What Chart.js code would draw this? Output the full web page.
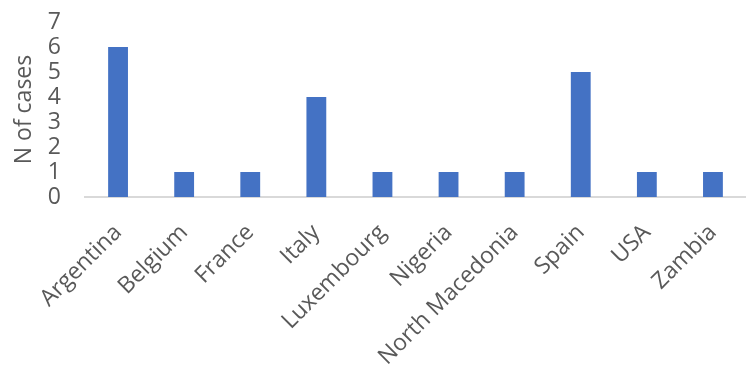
<!DOCTYPE html>
<html>
<head>
<meta charset="utf-8">
<script src="https://cdn.jsdelivr.net/npm/chart.js@4.4.1/dist/chart.umd.min.js"></script>
<style>
    html, body { margin: 0; padding: 0; background: #ffffff; }
    #wrap { width: 746px; height: 368px; position: relative; }
</style>
</head>
<body>
<div id="wrap"><canvas id="casesChart"></canvas></div>
<script>
// Chart data
const countries = ['Argentina', 'Belgium', 'France', 'Italy', 'Luxembourg', 'Nigeria', 'North Macedonia', 'Spain', 'USA', 'Zambia'];
const caseCounts = [6, 1, 1, 4, 1, 1, 1, 5, 1, 1];
const yMin = 0;
const yMax = 7;
const yStep = 1;

const textColor = '#595959';
const fontFamily = '"Open Sans", "Liberation Sans", sans-serif';

new Chart(document.getElementById('casesChart'), {
    type: 'bar',
    data: {
        labels: countries,
        datasets: [{
            data: caseCounts,
            backgroundColor: '#4472C4',
            borderWidth: 0,
            barPercentage: 0.3,
            categoryPercentage: 1
        }]
    },
    options: {
        responsive: true,
        maintainAspectRatio: false,
        animation: false,
        layout: { padding: { top: 22, left: 11, right: 0, bottom: 0 } },
        plugins: {
            legend: { display: false },
            tooltip: { enabled: false }
        },
        scales: {
            x: {
                grid: { display: false, drawTicks: false },
                border: { color: '#d9d9d9', width: 2 },
                ticks: {
                    color: textColor,
                    font: { family: fontFamily, size: 23 },
                    maxRotation: 45,
                    minRotation: 45,
                    autoSkip: false,
                    padding: 22
                },
                afterFit: function(scale) {
                    scale.height = 171;
                    scale.paddingLeft = 0;
                    scale.paddingRight = 0;
                }
            },
            y: {
                min: yMin,
                max: yMax,
                grid: { display: false, drawTicks: false },
                border: { display: false },
                ticks: {
                    stepSize: yStep,
                    autoSkip: false,
                    color: textColor,
                    font: { family: fontFamily, size: 23 },
                    padding: 24
                },
                title: {
                    display: true,
                    text: 'N of cases',
                    color: textColor,
                    font: { family: fontFamily, size: 23 },
                    padding: 0
                },
                afterFit: function(scale) {
                    scale.width = 74;
                    // keep the top label from pushing the plot down
                    scale.paddingTop = 0;
                    scale.paddingBottom = 0;
                }
            }
        }
    }
});
</script>
</body>
</html>
